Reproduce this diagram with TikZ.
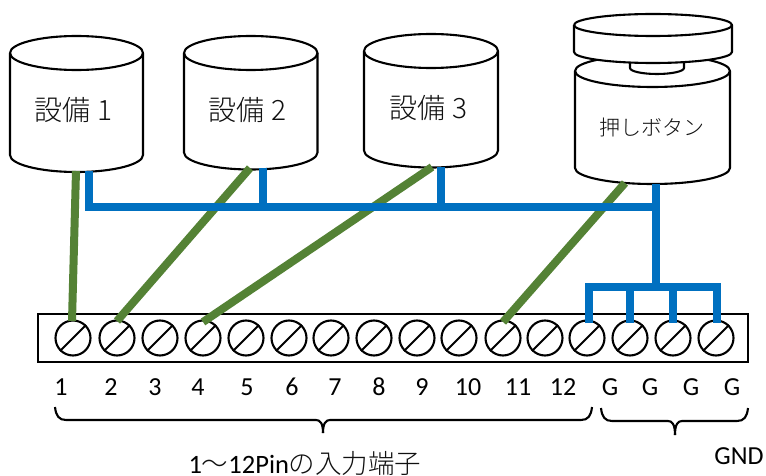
\documentclass[tikz,border=0pt]{standalone}
\usepackage{fontspec}
\setmainfont{Carlito}
\newfontfamily\jpfont{Noto Sans CJK JP Light}
\definecolor{wiregreen}{HTML}{548235}
\definecolor{wireblue}{HTML}{0070C0}
\definecolor{jptext}{HTML}{101010}
\newcommand{\drum}[5]{% left right ellipse-y ry side-end-y
  \pgfmathsetmacro{\rx}{(#2-#1)/2}
  \fill[white] (#1,#3) -- (#1,#5) arc[start angle=180,end angle=0,x radius=\rx,y radius=#4] -- (#2,#3) arc[start angle=0,end angle=-180,x radius=\rx,y radius=#4] -- cycle;
  \draw[shape line] (#1,#3) -- (#1,#5) arc[start angle=180,end angle=0,x radius=\rx,y radius=#4] -- (#2,#3);
  \draw[shape line] (#1,#3) arc[start angle=180,end angle=-180,x radius=\rx,y radius=#4];
}
\newcommand{\screw}[2]{%
  \node[screwhead] (s#1) at (#2,338) {};
  \draw[screwslot] (s#1.225) -- (s#1.45);
}
\tikzset{
  shape line/.style={draw=black,line width=2.1pt,line join=round},
  screwhead/.style={circle,draw=black,line width=2.1pt,minimum size=35pt,inner sep=0pt},
  screwslot/.style={line width=2.1pt,draw=black},
  green wire/.style={draw=wiregreen,line width=8pt},
  blue wire/.style={draw=wireblue,line width=7.6pt,line join=miter},
  brace line/.style={draw=black,line width=2.1pt,line join=round},
  jp label/.style={font=\jpfont,text=jptext,inner sep=0pt},
  pin label/.style={font=\fontsize{26}{28}\selectfont,text=black,inner sep=0pt,anchor=center},
}
\begin{document}
\begin{tikzpicture}[x=1pt,y=-1pt]
\useasboundingbox (0,0) rectangle (766,476);
% terminal block
\draw[line width=2.3pt,fill=white] (38,314) rectangle (748,362);
\foreach \n/\x in {1/73,2/117,3/160,4/203,5/246,6/289,7/331,8/374,9/417,10/459,11/503,12/545,13/587,14/630,15/673,16/716}{\screw{\n}{\x}}
% devices
\drum{10}{143}{53}{17}{155}
\drum{184}{317.5}{53}{17}{152.5}
\drum{364}{498}{51}{17}{150.5}
\drum{575}{730}{71}{16}{168}
% button stem and cap
\fill[white] (630,60) -- (630,68) arc[start angle=180,end angle=0,x radius=27,y radius=6] -- (684,60) -- cycle;
\draw[shape line] (630,60) -- (630,68) arc[start angle=180,end angle=0,x radius=27,y radius=6] -- (684,60);
\drum{574}{732}{25}{11}{52}
% anchors
\coordinate (a1) at (76,171); \coordinate (a2) at (89,171);
\coordinate (b1) at (250,168); \coordinate (b2) at (263,168);
\coordinate (c1) at (432,167); \coordinate (c2) at (441,167);
\coordinate (d1) at (625,183); \coordinate (d2) at (656,184);
\coordinate (p1) at (72,321); \coordinate (p2) at (117,321);
\coordinate (p4) at (203,322); \coordinate (p11) at (503,322);
\coordinate (busL) at (89,207); \coordinate (busR) at (656,207);
\coordinate (gb0) at (656,287);
\coordinate (g1) at (589,323); \coordinate (g2) at (630,323);
\coordinate (g3) at (673,323); \coordinate (g4) at (717,323);
% green wires
\draw[green wire] (a1) -- (p1);
\draw[green wire] (b1) -- (p2);
\draw[green wire] (c1) -- (p4);
\draw[green wire] (d1) -- (p11);
% blue wires
\draw[blue wire] (a2) |- (busR);
\draw[blue wire] (b2) -- (b2 |- busL);
\draw[blue wire] (c2) -- (c2 |- busL);
\draw[blue wire] (d2) -- (gb0);
\draw[blue wire] (g1) |- (gb0) -| (g4);
\draw[blue wire] (g2) -- (g2 |- gb0);
\draw[blue wire] (g3) -- (g3 |- gb0);
% device labels
\node[jp label,font=\jpfont\fontsize{28}{32}\selectfont] (la) at (73.5,110) {設備 1};
\node[jp label,font=\jpfont\fontsize{28}{32}\selectfont] (lb) at (247.5,110) {設備 2};
\node[jp label,font=\jpfont\fontsize{28}{32}\selectfont] (lc) at (428.5,108) {設備 3};
\node[jp label,font=\jpfont\fontsize{21}{25}\selectfont] (ld) at (651.5,127) {押しボタン};
% pin labels
\foreach \n/\x/\t in {1/61/1,2/111/2,3/155/3,4/198/4,5/247/5,6/292/6,7/335/7,8/379/8,9/422/9,10/468/10,11/518/11,12/563/12,13/610/G,14/650/G,15/691/G,16/732/G}{
  \node[pin label] (t\n) at (\x,387) {\t};
}
% braces
\draw[brace line] (55,407) .. controls (56,416) and (59,420) .. (66,420) -- (316,420) .. controls (320,420) and (323,423) .. (323,433);
\draw[brace line] (323,433) .. controls (323,423) and (326,420) .. (330,420) -- (581,420) .. controls (588,420) and (591,416) .. (592,407);
\draw[brace line] (601,408) .. controls (602,417) and (605,421) .. (612,421) -- (668,421) .. controls (672,421) and (675,424) .. (675,435);
\draw[brace line] (675,435) .. controls (675,424) and (678,421) .. (682,421) -- (737,421) .. controls (744,421) and (747,417) .. (748,408);
% bottom labels
\node[pin label,font=\fontsize{26.5}{28}\selectfont] (range) at (305,463) {1{\jpfont\color{jptext}〜}12Pin{\jpfont\color{jptext}の入力端子}};
\node[pin label] (gnd) at (739,456) {GND};
\end{tikzpicture}
\end{document}
